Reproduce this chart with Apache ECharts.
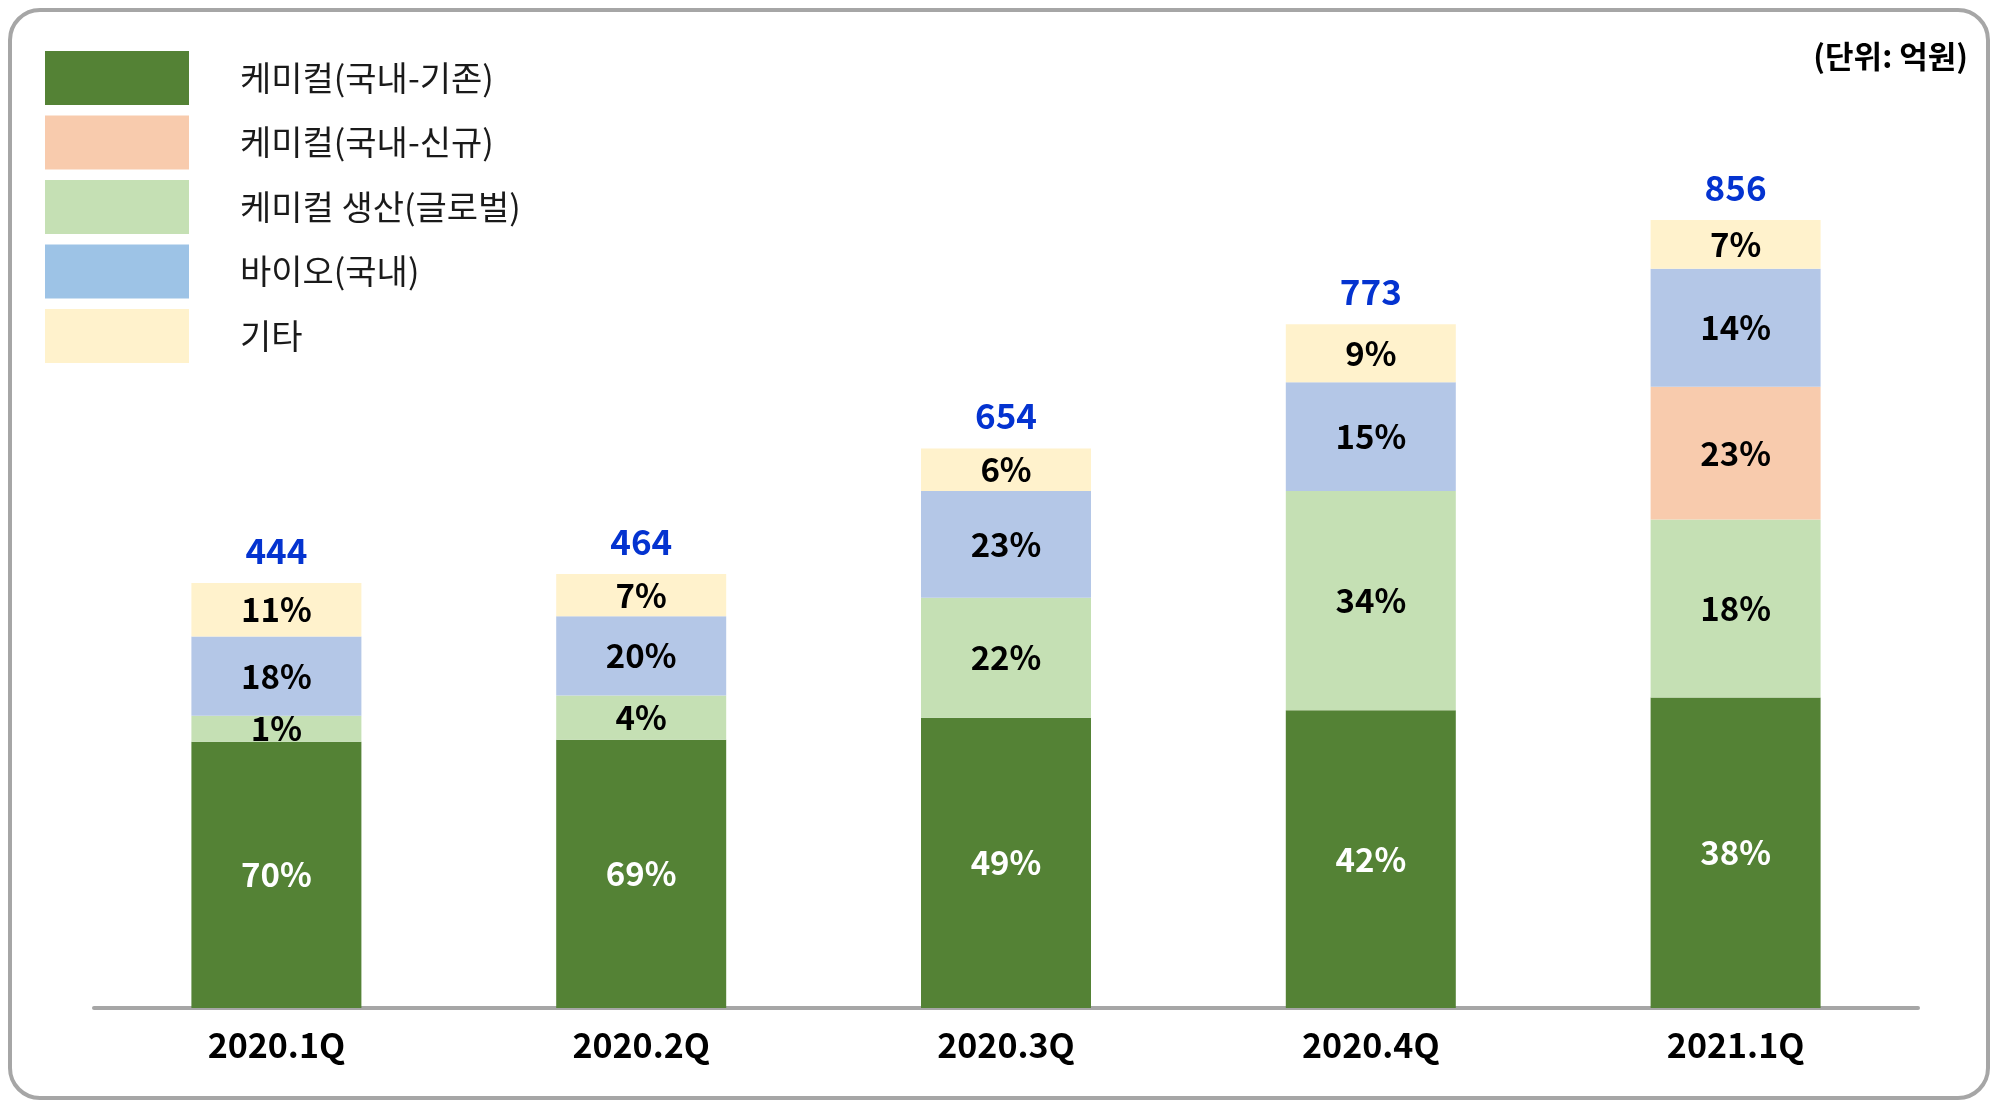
<!DOCTYPE html>
<html>
<head>
<meta charset="utf-8">
<script src="https://cdn.jsdelivr.net/npm/echarts@6/dist/echarts.min.js"></script>
<style>
html,body{margin:0;padding:0;background:#fff;}
#c{width:2000px;height:1106px;}
</style>
</head>
<body>
<div id="c"></div>
<script>
const categories = ['2020.1Q', '2020.2Q', '2020.3Q', '2020.4Q', '2021.1Q'];
const totals = [444, 464, 654, 773, 856];
const seriesNames = ['케미컬(국내-기존)', '케미컬(국내-신규)', '케미컬 생산(글로벌)', '바이오(국내)', '기타'];
// segment sizes (억원, approx.)
const chemExisting = [289, 291, 315, 323, 337];
const chemGlobal = [28, 48, 130, 238, 193];
const chemNew = [null, null, null, null, 144];
const bio = [86, 86, 116, 118, 128];
const others = [58, 46, 46, 63, 53];
// share labels
const pctChemExisting = ['70%', '69%', '49%', '42%', '38%'];
const pctChemGlobal = ['1%', '4%', '22%', '34%', '18%'];
const pctChemNew = ['', '', '', '', '23%'];
const pctBio = ['18%', '20%', '23%', '15%', '14%'];
const pctOthers = ['11%', '7%', '6%', '9%', '7%'];

const FONT = '"Noto Sans CJK KR", "Noto Sans", sans-serif';
const colors = {
  existing: '#548235',
  newer: '#F8CBAD',
  global: '#C5E0B4',
  bio: '#B4C7E7',
  bioLegend: '#9DC3E6',
  others: '#FFF2CC'
};

function seg(name, data, labels, color, labelColor) {
  return {
    name: name,
    type: 'bar',
    stack: 'total',
    barWidth: 170,
    data: data,
    itemStyle: { color: color },
    label: {
      show: true,
      position: 'inside',
      fontFamily: FONT,
      fontSize: 33,
      fontWeight: 'bold',
      color: labelColor,
      formatter: p => labels[p.dataIndex] || ''
    },
    emphasis: { disabled: true }
  };
}

const chart = echarts.init(document.getElementById('c'));
chart.setOption({
  animation: false,
  backgroundColor: '#ffffff',
  graphic: [
    {
      type: 'rect',
      shape: { x: 10, y: 10, width: 1978, height: 1088, r: 30 },
      style: { fill: 'none', stroke: '#A6A6A6', lineWidth: 4 },
      z: -1
    },
    {
      type: 'text',
      right: 32,
      top: 41,
      style: {
        text: '(단위: 억원)',
        fontFamily: FONT,
        fontSize: 31,
        fontWeight: 'bold',
        fill: '#000'
      }
    }
  ],
  legend: {
    orient: 'vertical',
    left: 40,
    top: 46,
    itemWidth: 144,
    itemHeight: 54,
    itemGap: 10.5,
    icon: 'rect',
    selectedMode: false,
    textStyle: {
      fontFamily: FONT,
      fontSize: 34,
      color: '#1a1a1a',
      padding: [0, 0, 0, 46]
    },
    data: [
      { name: seriesNames[0], itemStyle: { color: colors.existing } },
      { name: seriesNames[1], itemStyle: { color: colors.newer } },
      { name: seriesNames[2], itemStyle: { color: colors.global } },
      { name: seriesNames[3], itemStyle: { color: colors.bioLegend } },
      { name: seriesNames[4], itemStyle: { color: colors.others } }
    ]
  },
  grid: { left: 94, right: 82, top: 208, bottom: 98, containLabel: false },
  xAxis: {
    type: 'category',
    data: categories,
    axisLine: { show: true, lineStyle: { color: '#A6A6A6', width: 4 } },
    axisTick: { show: false },
    axisLabel: {
      fontFamily: FONT,
      fontSize: 34,
      fontWeight: 'bold',
      color: '#000',
      margin: 20
    }
  },
  yAxis: {
    type: 'value',
    min: 0,
    max: 868,
    show: false,
    splitLine: { show: false }
  },
  series: [
    seg(seriesNames[0], chemExisting, pctChemExisting, colors.existing, '#ffffff'),
    seg(seriesNames[2], chemGlobal, pctChemGlobal, colors.global, '#000000'),
    seg(seriesNames[1], chemNew, pctChemNew, colors.newer, '#000000'),
    seg(seriesNames[3], bio, pctBio, colors.bio, '#000000'),
    seg(seriesNames[4], others, pctOthers, colors.others, '#000000'),
    {
      name: '합계',
      type: 'bar',
      stack: 'total',
      barWidth: 170,
      data: totals.map(() => 0),
      itemStyle: { color: 'transparent' },
      label: {
        show: true,
        position: 'top',
        distance: 15,
        fontFamily: FONT,
        fontSize: 35,
        fontWeight: 'bold',
        color: '#0433D0',
        formatter: p => String(totals[p.dataIndex])
      },
      emphasis: { disabled: true }
    }
  ]
});
</script>
</body>
</html>
